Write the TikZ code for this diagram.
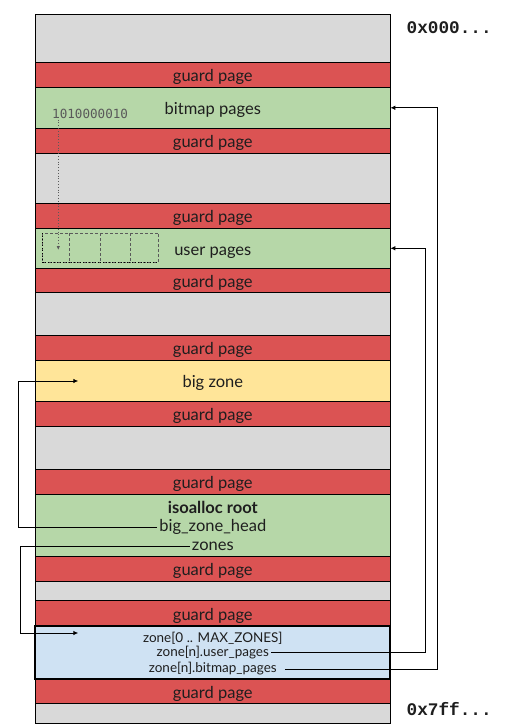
\documentclass[tikz,border=0pt]{standalone}
\usepackage{fontspec}
\setmainfont{Lato}
\newfontfamily\hexfont{Liberation Mono}
\newfontfamily\bitfont{DejaVu Sans Mono}
\usetikzlibrary{arrows.meta}

\definecolor{emptypg}{RGB}{217,217,217}
\definecolor{guardpg}{RGB}{219,83,83}
\definecolor{greenpg}{RGB}{182,215,168}
\definecolor{bigpg}{RGB}{255,229,153}
\definecolor{zonepg}{RGB}{207,226,243}
\definecolor{ink}{RGB}{30,30,30}
\definecolor{bitgray}{RGB}{90,90,90}

\begin{document}
\begin{tikzpicture}[x=1pt,y=-1pt,
  band/.style={draw=black,line width=0.9pt,minimum width=355pt,anchor=north west,
    inner sep=0pt,outer sep=0pt,text=ink,text height=17pt,text depth=3.3pt,
    font=\fontsize{16.5}{18}\selectfont},
  emptyband/.style={band,fill=emptypg},
  guardband/.style={band,fill=guardpg},
  greenband/.style={band,fill=greenpg},
  bigband/.style={band,fill=bigpg},
  zoneband/.style={band,fill=zonepg,line width=2pt},
  fieldlbl/.style={text=ink,inner sep=2pt,font=\fontsize{16.5}{18}\selectfont},
  zonelbl/.style={text=ink,inner sep=2pt,font=\fontsize{13.5}{15}\selectfont},
  addrlbl/.style={anchor=west,inner sep=0pt,text=ink,font=\hexfont\bfseries\fontsize{17.7}{19}\selectfont},
  conn/.style={draw=black,line width=0.9pt,-{Latex[length=5pt,width=4.5pt]}},
  cellline/.style={draw=bitgray,line width=0.8pt,dash pattern=on 3pt off 2pt},
]
\useasboundingbox (0,0) rectangle (516,727);

% address space, top to bottom
\node[emptyband,minimum height=48pt]   (e0) at (35.3,14.3) {};
\node[guardband,minimum height=25pt]   (g1) at (35.3,62.3) {guard page};
\node[greenband,minimum height=41pt]   (bitmap) at (35.3,87.3) {bitmap pages};
\node[guardband,minimum height=25pt]   (g2) at (35.3,128.3) {guard page};
\node[emptyband,minimum height=50pt]   (e1) at (35.3,153.3) {};
\node[guardband,minimum height=25pt]   (g3) at (35.3,203.3) {guard page};
\node[greenband,minimum height=40pt]   (user) at (35.3,228.3) {user pages};
\node[guardband,minimum height=24.4pt] (g4) at (35.3,268.3) {guard page};
\node[emptyband,minimum height=42.3pt] (e2) at (35.3,292.7) {};
\node[guardband,minimum height=25.3pt] (g5) at (35.3,335) {guard page};
\node[bigband,minimum height=40.7pt]   (big) at (35.3,360.3) {big zone};
\node[guardband,minimum height=25.3pt] (g6) at (35.3,401) {guard page};
\node[emptyband,minimum height=43pt]   (e3) at (35.3,426.3) {};
\node[guardband,minimum height=25pt]   (g7) at (35.3,469.3) {guard page};
\node[greenband,minimum height=62pt]   (root) at (35.3,494.3) {};
\node[guardband,minimum height=25pt]   (g8) at (35.3,556.3) {guard page};
\node[emptyband,minimum height=19.4pt] (e4) at (35.3,581.3) {};
\node[guardband,minimum height=25pt]   (g9) at (35.3,600.7) {guard page};
\node[emptyband,minimum height=20pt]   (e5) at (35.3,703.3) {};
\node[guardband,minimum height=24.3pt] (g10) at (35.3,679) {guard page};
\node[zoneband,minimum height=53.3pt]  (zone) at (35.3,625.7) {};

% address labels
\node[addrlbl] (lowaddr) at (406.5,27.5) {0x000...};
\node[addrlbl] (highaddr) at (406.5,709) {0x7ff...};

% bitmap bits and the user page cells they track
\node[anchor=west,inner sep=0pt,text=bitgray,font=\bitfont\fontsize{12.6}{14}\selectfont] (bits) at (52,113.8) {1010000010};
\draw[cellline] (42.7,233) rectangle (158.3,262.3);
\draw[cellline] (69.3,233) -- (69.3,262.3);
\draw[cellline] (100.3,233) -- (100.3,262.3);
\draw[cellline] (130.3,233) -- (130.3,262.3);
\draw[black,line width=0.9pt,dotted] (42.7,233) |- (158.3,262.3);
\coordinate (cellhit) at (58.3,250);
\draw[bitgray,line width=0.8pt,dotted,-{Latex[length=4pt,width=3.5pt]}] ([yshift=2pt]bits.south -| cellhit) -- (cellhit);

% isoalloc root fields
\node[fieldlbl,font=\bfseries\fontsize{16.5}{18}\selectfont] (rootttl) at (212.8,507.8) {isoalloc root};
\node[fieldlbl] (bzh) at (212.8,527) {big\_zone\_head};
\node[fieldlbl] (zns) at (212.8,546.5) {zones};

% zone array fields
\node[zonelbl] (zarr) at (212.8,638) {zone[0 .. MAX\_ZONES]};
\node[zonelbl] (zup) at (212.8,652.8) {zone[n].user\_pages};
\node[zonelbl] (zbp) at (212.8,669) {zone[n].bitmap\_pages};

% connector routes
\coordinate (lft1) at (18.5,0);
\coordinate (lft2) at (20,0);
\coordinate (rt1) at (425.3,0);
\coordinate (rt2) at (437,0);
\coordinate (bigin) at (78.3,381);
\coordinate (zonein) at (78.3,633);

\draw[conn] (bzh.west) -- (bzh.west -| lft1) |- (bigin);
\draw[conn] (zns.west) -- (zns.west -| lft2) |- (zonein);
\draw[conn] (zup.east) -- (zup.east -| rt1) |- (user.east);
\draw[conn] ([xshift=6pt]zbp.east) -- (zbp.east -| rt2) |- (bitmap.east);
\end{tikzpicture}
\end{document}
